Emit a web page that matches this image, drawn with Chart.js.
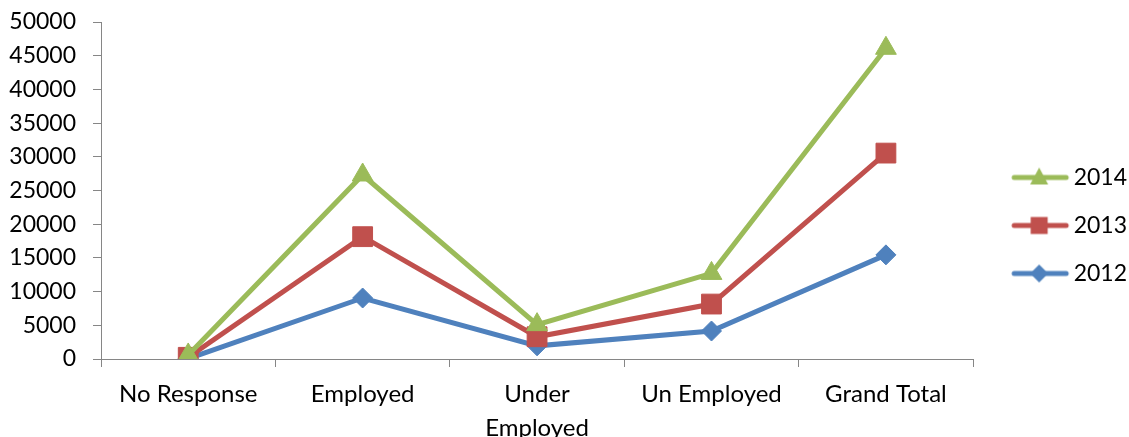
<!DOCTYPE html>
<html>
<head>
<meta charset="utf-8">
<script src="https://cdn.jsdelivr.net/npm/chart.js@4.4.0/dist/chart.umd.min.js"></script>
<style>
html, body { margin: 0; padding: 0; background: #fff; }
#wrap { width: 1129px; height: 437px; }
</style>
</head>
<body>
<div id="wrap"><canvas id="lineChart"></canvas></div>
<script>
var categories = ["No Response", "Employed", ["Under", "Employed"], "Un Employed", "Grand Total"];
var yTicks = [0, 5000, 10000, 15000, 20000, 25000, 30000, 35000, 40000, 45000, 50000];
var data2014 = [600, 27300, 5100, 12700, 46100];
var data2013 = [250, 18150, 3300, 8150, 30550];
var data2012 = [50, 9050, 1950, 4150, 15450];

var green = "#9BBB59", red = "#C0504D", blue = "#4F81BD", axisGray = "#868686";
var fontFam = "Lato, 'Open Sans', sans-serif";

// legend icon: line with marker, canvas wider than the box so it can sit further right
function makeIcon(color, shape) {
	var c = document.createElement("canvas");
	c.width = 80; c.height = 24;
	var ctx = c.getContext("2d");
	ctx.strokeStyle = color;
	ctx.lineWidth = 5;
	ctx.lineCap = "round";
	ctx.beginPath(); ctx.moveTo(24, 12); ctx.lineTo(76, 12); ctx.stroke();
	ctx.fillStyle = color;
	ctx.beginPath();
	var m = 49;
	if (shape == "triangle") {
		ctx.moveTo(m, 2); ctx.lineTo(m + 9, 19); ctx.lineTo(m - 9, 19);
	} else if (shape == "rect") {
		ctx.rect(m - 8.5, 3.5, 17, 17);
	} else {
		ctx.moveTo(m, 3); ctx.lineTo(m + 9, 12); ctx.lineTo(m, 21); ctx.lineTo(m - 9, 12);
	}
	ctx.closePath();
	ctx.fill();
	return c;
}
var icons = [makeIcon(green, "triangle"), makeIcon(red, "rect"), makeIcon(blue, "diamond")];

var data = {
	labels: categories,
	datasets: [
		{ label: "2014", data: data2014, borderColor: green, backgroundColor: green,
		  pointStyle: "triangle", pointRadius: 12, pointHoverRadius: 12, borderWidth: 5, pointBorderWidth: 1 },
		{ label: "2013", data: data2013, borderColor: red, backgroundColor: red,
		  pointStyle: "rect", pointRadius: 14, pointHoverRadius: 14, borderWidth: 5, pointBorderWidth: 1 },
		{ label: "2012", data: data2012, borderColor: blue, backgroundColor: blue,
		  pointStyle: "rectRot", pointRadius: 10, pointHoverRadius: 10, borderWidth: 5, pointBorderWidth: 1 }
	]
};

var option = {
	responsive: true,
	maintainAspectRatio: false,
	animation: false,
	layout: { padding: { top: 14, left: 0, right: -8, bottom: 0 } },
	plugins: {
		tooltip: { enabled: false },
		legend: {
			display: true,
			position: "right",
			labels: {
				usePointStyle: true,
				pointStyleWidth: 64,
				padding: 25,
				color: "#000",
				font: { family: fontFam, size: 23 },
				generateLabels: function(chart) {
					return chart.data.datasets.map(function(ds, i) {
						return { text: ds.label, pointStyle: icons[i], fillStyle: ds.borderColor,
							strokeStyle: ds.borderColor, lineWidth: 0, datasetIndex: i, fontColor: "#000" };
					});
				}
			}
		}
	},
	scales: {
		x: {
			offset: true,
			grid: { offset: true, drawOnChartArea: false, drawTicks: true, tickLength: 8, color: axisGray },
			border: { color: axisGray, width: 1 },
			ticks: { color: "#000", padding: 10, maxRotation: 0, autoSkip: false,
				font: { family: fontFam, size: 24, lineHeight: 1.42 } },
			afterFit: function(scale) { scale.height = 78; }
		},
		y: {
			min: 0,
			max: 50000,
			afterBuildTicks: function(scale) {
				scale.ticks = yTicks.map(function(v) { return { value: v }; });
			},
			grid: { drawOnChartArea: false, drawTicks: true, tickLength: 8, color: axisGray },
			border: { color: axisGray, width: 1 },
			ticks: { color: "#000", padding: 17, font: { family: fontFam, size: 23 },
				callback: function(v) { return String(v); } },
			afterFit: function(scale) {
				scale.width = 101;
				scale.paddingTop = 22;
				scale.paddingBottom = 0;
			}
		}
	}
};

var lineObj = new Chart(document.getElementById("lineChart"), {
	type: "line",
	data: data,
	options: option
});
</script>
</body>
</html>
